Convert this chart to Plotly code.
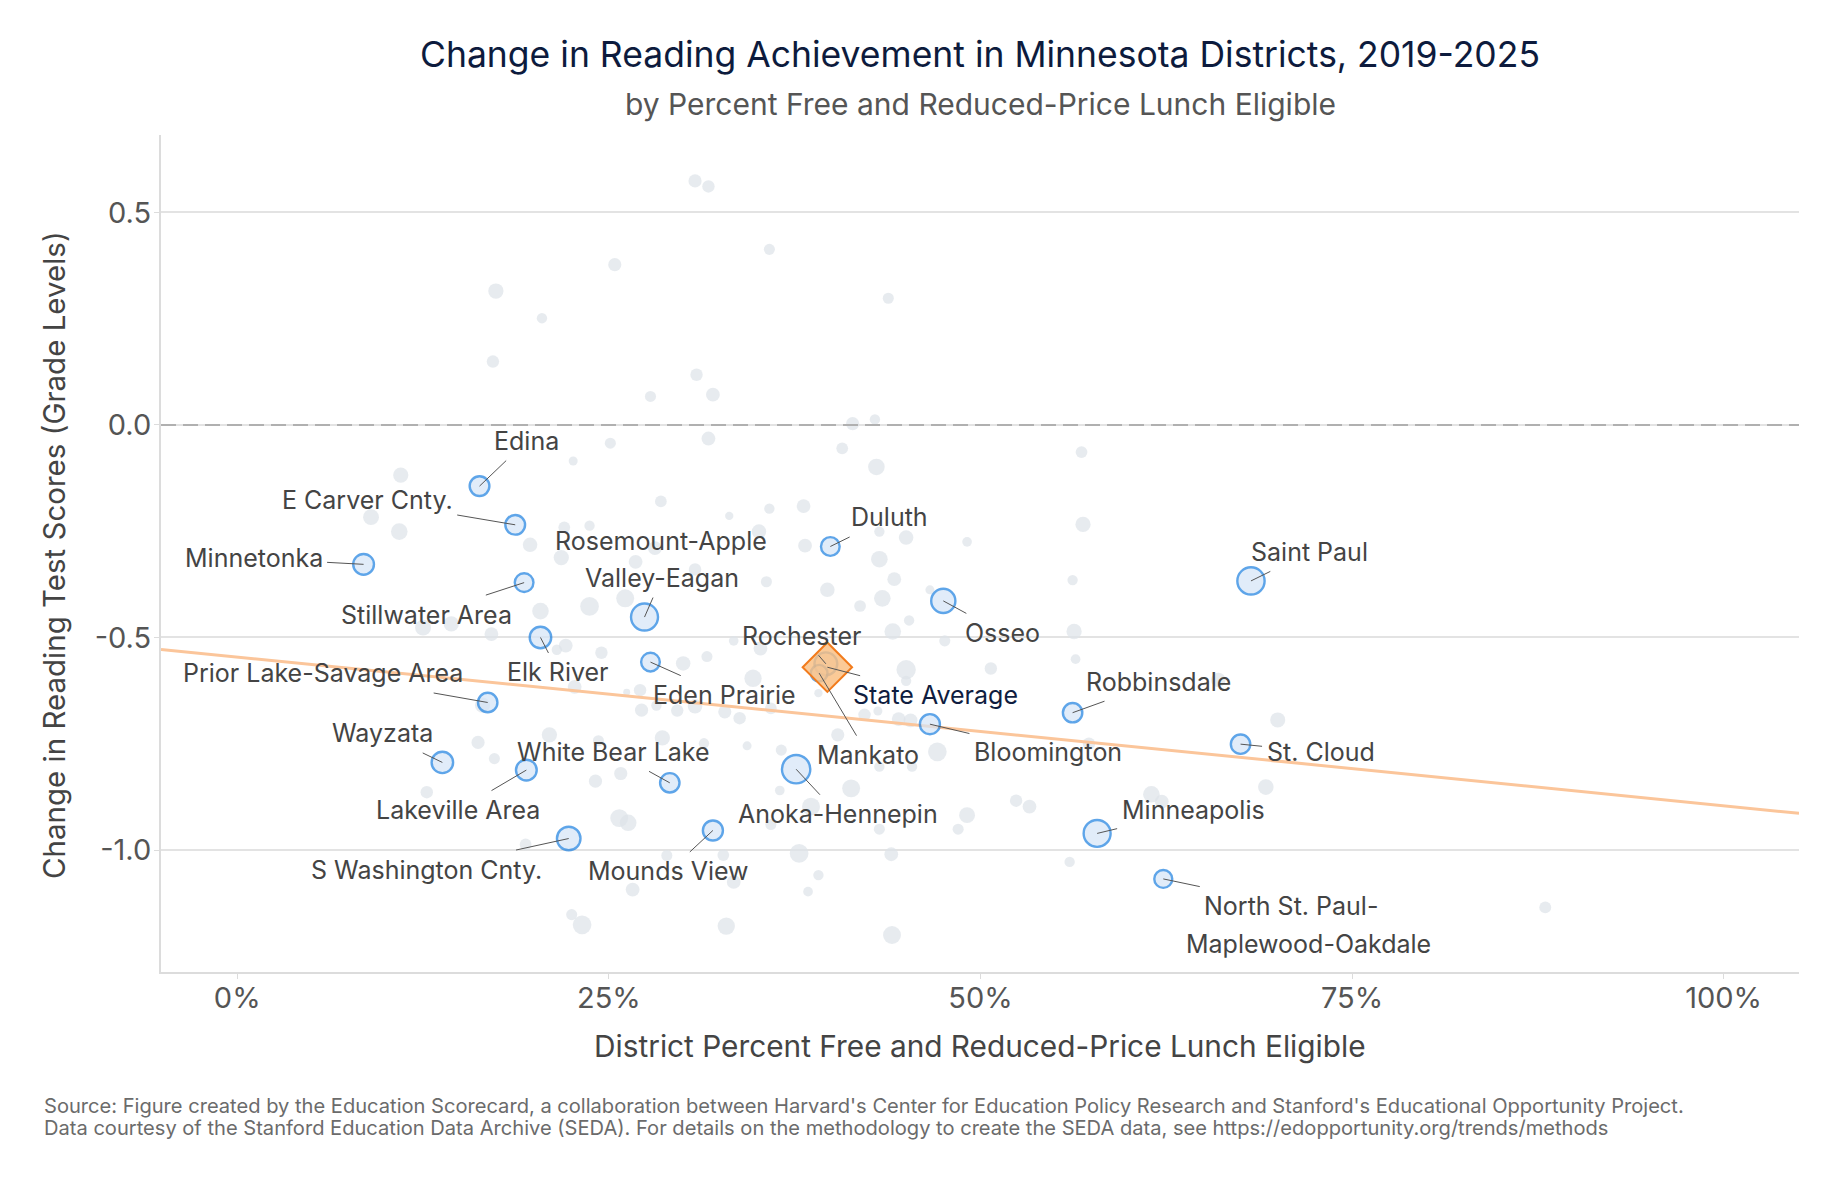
import plotly.graph_objects as go
import numpy as np

# ---------------- data ----------------
# other Minnesota districts: % FRL eligible, change in grade levels, enrollment (est.)
gray_pct = [25.4, 17.4, 20.5, 17.2, 27.8, 25.1, 22.6, 11.0, 28.5, 9.0, 10.9, 22.0, 23.7, 19.7,
            21.8, 28.1, 26.8, 30.8, 20.4, 23.7, 26.1, 12.5, 14.4, 17.1, 22.1, 21.5, 24.5, 22.7,
            26.2, 27.1, 27.2, 28.2, 29.6, 16.5, 21.0, 24.3, 28.6, 16.2, 17.3, 25.8, 24.1, 12.75,
            25.7, 26.3, 19.4, 28.9, 26.6, 22.5, 23.2, 30.8, 31.7, 35.8, 43.8, 30.9, 32.0, 41.4,
            42.9, 31.7, 40.7, 43.0, 56.8, 33.1, 35.8, 38.1, 56.9, 35.1, 38.2, 43.2, 45.0, 49.1,
            43.2, 35.6, 44.2, 56.2, 39.7, 43.4, 46.6, 41.9, 45.2, 44.1, 56.3, 47.6, 33.4, 35.2,
            56.4, 50.7, 45.0, 31.6, 30.0, 34.7, 45.0, 39.1, 35.9, 32.8, 33.8, 30.8, 42.2, 43.1,
            44.5, 45.3, 40.4, 34.3, 36.6, 31.4, 47.1, 43.2, 45.4, 41.3, 36.5, 38.6, 35.9, 43.2,
            52.4, 53.3, 49.1, 48.5, 61.5, 62.2, 32.7, 37.8, 44.0, 56.0, 39.1, 33.4, 38.4, 32.9,
            44.05, 70.0, 69.2, 88.0, 66.0, 57.3]
gray_change = [0.377, 0.315, 0.251, 0.149, 0.067, -0.043, -0.085, -0.118, -0.180, -0.217, -0.251,
               -0.241, -0.237, -0.282, -0.312, -0.290, -0.322, -0.340, -0.438, -0.427, -0.408,
               -0.477, -0.468, -0.492, -0.519, -0.529, -0.536, -0.616, -0.629, -0.624, -0.671,
               -0.660, -0.672, -0.659, -0.729, -0.743, -0.736, -0.747, -0.785, -0.820, -0.838,
               -0.864, -0.925, -0.936, -0.987, -1.013, -1.093, -1.152, -1.176, 0.574, 0.561,
               0.413, 0.298, 0.118, 0.071, 0.003, 0.013, -0.032, -0.055, -0.099, -0.064, -0.214,
               -0.197, -0.191, -0.234, -0.251, -0.284, -0.251, -0.265, -0.275, -0.316, -0.369,
               -0.363, -0.365, -0.388, -0.408, -0.388, -0.426, -0.460, -0.486, -0.486, -0.508,
               -0.508, -0.526, -0.551, -0.573, -0.576, -0.545, -0.561, -0.596, -0.602, -0.631,
               -0.667, -0.675, -0.690, -0.662, -0.682, -0.673, -0.692, -0.695, -0.729, -0.755,
               -0.765, -0.749, -0.769, -0.804, -0.804, -0.855, -0.860, -0.898, -0.940, -0.951,
               -0.884, -0.898, -0.918, -0.951, -0.869, -0.886, -1.012, -1.008, -1.010, -1.028,
               -1.059, -1.075, -1.098, -1.179, -1.200, -0.694, -0.852, -1.135, -0.600, -0.750]
gray_enroll = [6300, 8450, 3900, 5600, 4450, 4450, 2950, 8450, 5000, 9150, 10000, 5000, 3900, 7650,
               8450, 6900, 6900, 5600, 10000, 12650, 11700, 9150, 8450, 6900, 6900, 3900, 5600, 6900,
               1750, 5600, 6300, 3900, 5600, 8450, 8450, 4450, 8450, 6300, 4450, 6300, 6300, 5600,
               11700, 10000, 5000, 4450, 6900, 4450, 12650, 6300, 5600, 4450, 4450, 5600, 6900, 6300,
               3900, 6900, 5000, 10000, 5000, 2500, 3900, 6900, 8450, 7650, 6900, 3900, 7650, 3400,
               10000, 4450, 6900, 3900, 7650, 10000, 2950, 5000, 3900, 10000, 8450, 4450, 3400, 6900,
               3400, 5600, 13650, 4450, 7650, 10900, 3900, 2500, 5000, 6300, 5600, 7650, 5600, 2950,
               6900, 6900, 6300, 2950, 4450, 3900, 12650, 3900, 3900, 11700, 3400, 11700, 4450, 4450,
               5600, 6900, 9150, 4450, 10000, 6900, 5000, 12650, 6900, 3900, 3900, 6900, 3400, 10900,
               11700, 8200, 8800, 5150, 7650, 5600]

# highlighted districts
hl_names = ["Edina", "E Carver Cnty.", "Minnetonka", "Stillwater Area", "Rosemount-Apple Valley-Eagan",
            "Duluth", "Osseo", "Saint Paul", "Elk River", "Eden Prairie", "Rochester", "Mankato",
            "Bloomington", "Robbinsdale", "St. Cloud", "Prior Lake-Savage Area", "Wayzata",
            "Lakeville Area", "White Bear Lake", "Anoka-Hennepin", "Minneapolis",
            "S Washington Cnty.", "Mounds View", "North St. Paul-Maplewood-Oakdale"]
hl_pct = [16.3, 18.7, 8.5, 19.3, 27.4, 39.9, 47.5, 68.2, 20.4, 27.8, 39.6, 39.15,
          46.6, 56.2, 67.5, 16.85, 13.8, 19.45, 29.1, 37.6, 57.85, 22.3, 32.0, 62.3]
hl_change = [-0.144, -0.235, -0.328, -0.371, -0.452, -0.286, -0.414, -0.367, -0.500, -0.558, -0.562,
             -0.584, -0.704, -0.677, -0.751, -0.653, -0.794, -0.812, -0.842, -0.810, -0.961,
             -0.973, -0.954, -1.068]
hl_enroll = [14100, 14100, 15600, 12650, 26400, 12650, 21200, 27000, 16700, 12650, 18900, 10000,
             14550, 13650, 13650, 13650, 16700, 15600, 13650, 29100, 26400, 20100, 14550, 11700]

# state average
state_pct = 39.7
state_change = -0.570

# fitted trend line
trend_intercept = -0.546
trend_slope = -0.350   # grade levels per 100% FRL

x_ticks = [0, 0.25, 0.5, 0.75, 1.0]
x_ticklabels = ["0%", "25%", "50%", "75%", "100%"]
y_ticks = [0.5, 0.0, -0.5, -1.0]
y_ticklabels = ["0.5", "0.0", "-0.5", "-1.0"]

title = "Change in Reading Achievement in Minnesota Districts, 2019-2025"
subtitle = "by Percent Free and Reduced-Price Lunch Eligible"
x_title = "District Percent Free and Reduced-Price Lunch Eligible"
y_title = "Change in Reading Test Scores (Grade Levels)"
source_lines = [
    "Source: Figure created by the Education Scorecard, a collaboration between Harvard's Center for Education Policy Research and Stanford's Educational Opportunity Project.",
    "Data courtesy of the Stanford Education Data Archive (SEDA). For details on the methodology to create the SEDA data, see https://edopportunity.org/trends/methods",
]

# ---------------- label placement (pixel offsets from point) ----------------
label_layout = {
    "Edina": [("Edina", 47, -45, True)],
    "E Carver Cnty.": [("E Carver Cnty.", -148, -25, True)],
    "Minnetonka": [("Minnetonka", -110, -6, True)],
    "Stillwater Area": [("Stillwater Area", -98, 32, True)],
    "Rosemount-Apple Valley-Eagan": [("Rosemount-Apple", 16, -76, False), ("Valley-Eagan", 17, -39, True)],
    "Duluth": [("Duluth", 59, -29, True)],
    "Osseo": [("Osseo", 59, 32, True)],
    "Saint Paul": [("Saint Paul", 59, -29, True)],
    "Elk River": [("Elk River", 18, 35, True)],
    "Eden Prairie": [("Eden Prairie", 74, 33, True)],
    "Rochester": [("Rochester", -24, -28, True)],
    "Mankato": [("Mankato", 49, 82, True)],
    "Bloomington": [("Bloomington", 118, 28, True)],
    "Robbinsdale": [("Robbinsdale", 86, -31, True)],
    "St. Cloud": [("St. Cloud", 80, 8, True)],
    "Prior Lake-Savage Area": [("Prior Lake-Savage Area", -165, -29, True)],
    "Wayzata": [("Wayzata", -60, -29, True)],
    "Lakeville Area": [("Lakeville Area", -68, 40, True)],
    "White Bear Lake": [("White Bear Lake", -56, -31, True)],
    "Anoka-Hennepin": [("Anoka-Hennepin", 42, 45, True)],
    "Minneapolis": [("Minneapolis", 96, -23, True)],
    "S Washington Cnty.": [("S Washington Cnty.", -142, 31, True)],
    "Mounds View": [("Mounds View", -44, 41, True)],
    "North St. Paul-Maplewood-Oakdale": [("North St. Paul-", 128, 27, True), ("Maplewood-Oakdale", 145, 65, False)],
}

FONT = "Inter, Roboto, 'Noto Sans', sans-serif"
SIZE_K = 0.166
LABEL_SIZE = 25

W, H = 1841, 1182
PL, PR, PT, PB = 161, 42, 135, 210   # plot-area margins
PW, PH = W - PL - PR, H - PT - PB


def px_to_paper_x(px):
    return (px - PL) / PW


def px_to_paper_y(py):
    return (H - PB - py) / PH


def size_from_enroll(e):
    return [SIZE_K * np.sqrt(v) for v in e]


x_range = [-0.0513, 1.0507]
y_range = [-1.287, 0.682]

fig = go.Figure()

fig.add_trace(go.Scatter(
    x=[p / 100 for p in gray_pct], y=gray_change, mode="markers",
    marker=dict(size=size_from_enroll(gray_enroll), color="#dde2e8", line=dict(width=0)),
    hoverinfo="skip", showlegend=False))

tx = np.array(x_range)
fig.add_trace(go.Scatter(
    x=tx, y=trend_intercept + trend_slope * tx, mode="lines",
    line=dict(color="#fbc59a", width=3), hoverinfo="skip", showlegend=False))

fig.add_trace(go.Scatter(
    x=[p / 100 for p in hl_pct], y=hl_change, mode="markers", text=hl_names,
    marker=dict(size=size_from_enroll(hl_enroll), color="#d5e5f7",
                line=dict(width=2.4, color="#1b7fe0")),
    hoverinfo="text", showlegend=False))

fig.add_trace(go.Scatter(
    x=[state_pct / 100], y=[state_change], mode="markers",
    marker=dict(symbol="diamond", size=38, color="rgba(250,190,128,0.82)",
                line=dict(width=2, color="#f27b1c")),
    hoverinfo="skip", showlegend=False))

annotations = []
for name, xp, yv in zip(hl_names, hl_pct, hl_change):
    for text, ax, ay, arrow in label_layout[name]:
        annotations.append(dict(
            x=xp / 100, y=yv, xref="x", yref="y", text=text, ax=ax, ay=ay,
            axref="pixel", ayref="pixel", showarrow=True,
            arrowhead=0, arrowwidth=1, arrowcolor="#555555" if arrow else "rgba(0,0,0,0)",
            borderpad=4, font=dict(family=FONT, size=LABEL_SIZE, color="#444444")))
annotations.append(dict(
    x=state_pct / 100, y=state_change, xref="x", yref="y", text="State Average",
    ax=108, ay=28, axref="pixel", ayref="pixel", showarrow=True, arrowhead=0,
    arrowwidth=1, arrowcolor="#555555", borderpad=4,
    font=dict(family=FONT, size=LABEL_SIZE, color="#0f1d40")))

# title and subtitle
annotations.append(dict(
    x=0.5, y=px_to_paper_y(55), xref="paper", yref="paper", xanchor="center", yanchor="middle",
    text=title, showarrow=False, font=dict(family=FONT, size=35.5, color="#0d1b3d")))
annotations.append(dict(
    x=0.5, y=px_to_paper_y(104), xref="paper", yref="paper", xanchor="center", yanchor="middle",
    text=subtitle, showarrow=False, font=dict(family=FONT, size=30, color="#555555")))

# axis titles
annotations.append(dict(
    x=0.5, y=px_to_paper_y(1046), xref="paper", yref="paper", xanchor="center", yanchor="middle",
    text=x_title, showarrow=False, font=dict(family=FONT, size=29.8, color="#444444")))
annotations.append(dict(
    x=px_to_paper_x(54), y=px_to_paper_y(555), xref="paper", yref="paper",
    xanchor="center", yanchor="middle", textangle=-90,
    text=y_title, showarrow=False, font=dict(family=FONT, size=29.5, color="#444444")))

# footer
for line, yc in zip(source_lines, [1106, 1128]):
    annotations.append(dict(
        x=px_to_paper_x(42), y=px_to_paper_y(yc), xref="paper", yref="paper",
        xanchor="left", yanchor="middle", align="left", showarrow=False,
        text=line, font=dict(family=FONT, size=20.1, color="#6b6b6b")))

fig.update_layout(
    width=W, height=H,
    margin=dict(l=PL, r=PR, t=PT, b=PB),
    paper_bgcolor="white", plot_bgcolor="white",
    font=dict(family=FONT, color="#444444"),
    annotations=annotations,
    showlegend=False,
)

fig.update_xaxes(
    range=x_range, tickvals=x_ticks, ticktext=x_ticklabels,
    showgrid=False, zeroline=False, showline=True, linecolor="#dcdcdc", linewidth=2,
    ticks="outside", ticklen=5, tickcolor="#dcdcdc", tickwidth=1, ticklabelstandoff=-6,
    tickfont=dict(family=FONT, size=29, color="#555555"))
fig.update_yaxes(
    range=y_range, tickvals=y_ticks, ticktext=y_ticklabels,
    showgrid=True, gridcolor="#e3e3e3", gridwidth=2, zeroline=False,
    showline=True, linecolor="#dcdcdc", linewidth=2,
    ticks="outside", ticklen=5, tickcolor="#dcdcdc", tickwidth=1, ticklabelstandoff=-3,
    tickfont=dict(family=FONT, size=29, color="#555555"))

fig.add_hline(y=0, line=dict(color="#b0b0b0", width=2, dash="15px,7px"), layer="above")

fig.write_html("out.html")
